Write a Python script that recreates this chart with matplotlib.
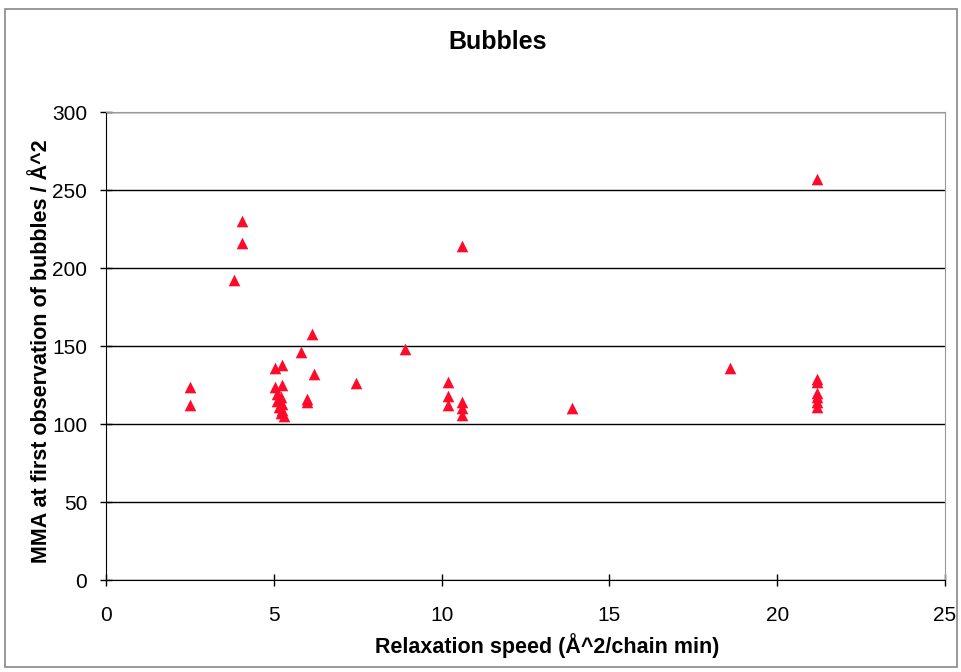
#
# Bubbles: MMA at first observation vs relaxation speed
#

import matplotlib.pyplot as plt
from matplotlib.patches import Rectangle

plt.rcParams['font.family'] = ['Liberation Sans', 'DejaVu Sans']

# Relaxation speed (x) and MMA (y)
speed = [2.5, 2.5,
         3.8, 4.05, 4.05,
         5.05, 5.25, 5.05, 5.25, 5.1, 5.2, 5.1, 5.25, 5.15, 5.25, 5.2, 5.3,
         5.8, 6.0, 6.0, 6.15, 6.2, 7.45, 8.9,
         10.2, 10.2, 10.2, 10.6, 10.6, 10.6, 10.6,
         13.9, 18.6,
         21.2, 21.2, 21.2, 21.2, 21.2, 21.2, 21.2]
mma = [124, 112,
       192, 230, 216,
       136, 138, 124, 125, 119, 117, 115, 113, 111, 109, 107, 105,
       146, 116, 114, 158, 132, 126, 148,
       127, 118, 112, 214, 114, 110, 106,
       110, 136,
       257, 129, 127, 120, 117, 114, 111]

x_ticks = [0, 5, 10, 15, 20, 25]
y_ticks = [0, 50, 100, 150, 200, 250, 300]

fig = plt.figure(figsize=(9.62, 6.72), dpi=100)
ax = fig.add_axes([0.1102, 0.1369, 0.8721, 0.6964])

# thin grey frame round the whole chart
fig.patches.append(Rectangle((0.005, 0.008), 0.99, 0.978, transform=fig.transFigure,
                             fill=False, edgecolor='#888888', linewidth=1.2))

ax.scatter(speed, mma, marker='^', s=70, color='#ff0a2a', linewidths=0, zorder=3)

ax.set_xlim(0, 25)
ax.set_ylim(0, 300)
ax.set_xticks(x_ticks)
ax.set_yticks(y_ticks)
ax.yaxis.grid(True, color='black', linewidth=1.0)
ax.set_axisbelow(True)

for side in ['top', 'right']:
    ax.spines[side].set_color('#999999')
ax.spines['left'].set_color('black')
ax.spines['bottom'].set_color('black')
ax.tick_params(direction='inout', length=9, labelsize=15, width=1)
ax.tick_params(axis='x', pad=14)
ax.tick_params(axis='y', pad=9)

# title sits a little left of the plot centre in the original
fig.text(498 / 962, 1 - 42 / 672, 'Bubbles', fontsize=18, fontweight='bold',
         ha='center', va='center')
ax.set_xlabel('Relaxation speed (Å^2/chain min)', fontsize=15.5, fontweight='bold')
ax.xaxis.set_label_coords(0.526, -0.113)
ax.set_ylabel('MMA at first observation of bubbles / Å^2', fontsize=15.5,
              fontweight='bold')
ax.yaxis.set_label_coords(-0.064, 0.489)

fig.savefig('out.png', dpi=100)
